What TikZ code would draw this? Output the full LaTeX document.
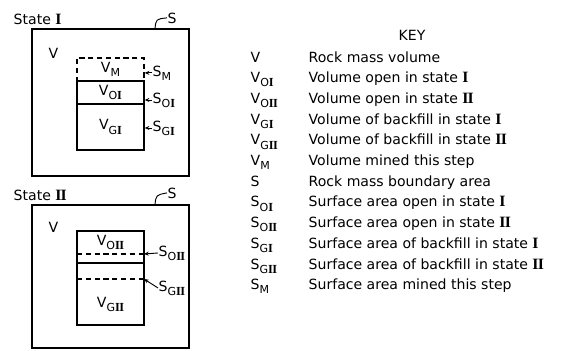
\documentclass[tikz,border=0pt]{standalone}
\usepackage{fontspec}
\setmainfont{DejaVu Sans}
\newfontfamily\romfont[Scale=1.12]{Liberation Serif}
\usetikzlibrary{arrows.meta}
\newcommand{\lowsub}[1]{\raisebox{-0.55ex}{\fontsize{9.4}{10}\selectfont #1}}
\newcommand{\rI}{{\romfont\bfseries I}}
\newcommand{\rII}{{\romfont\bfseries I\kern-0.05em I}}
\tikzset{
  lbl/.style   = {inner sep=0pt, font=\fontsize{12}{14}\selectfont},
  cell/.style  = {draw, lbl, minimum width=2.01cm},
  dsh/.style   = {dash pattern=on 4.5pt off 3pt},
  lead/.style  = {-{Stealth[length=4pt,width=3.4pt]}, line width=0.8pt},
}

\begin{document}
\begin{tikzpicture}[x=0.03cm, y=-0.03cm, line width=1.2pt]
\useasboundingbox (0,0) rectangle (578,350);
% ---- state I ----
\node[lbl,anchor=base west] (st1) at (13,24) {State \rI};
\node[lbl,anchor=base west] (s1) at (167,23) {S};
\draw (32,29) rectangle (189,176);
\draw[line width=0.8pt] (155,29) .. controls (156,19) .. (s1.west);
\node[lbl,anchor=base] (v1) at (53.5,58) {V};
\node[cell,dsh,minimum height=0.69cm] (vm) at (110.5,69.5) {V\lowsub{M}};
\node[cell,minimum height=0.69cm] (voi) at (110.5,92.5) {V\lowsub{O\rI}};
\node[cell,minimum height=1.38cm] (vgi) at (110.5,127) {V\lowsub{G\rI}};
\node[lbl,anchor=base west] (sm)  at (152,76)  {S\lowsub{M}};
\node[lbl,anchor=base west] (soi) at (152,103) {S\lowsub{O\rI}};
\node[lbl,anchor=base west] (sgi) at (152,131) {S\lowsub{G\rI}};
\draw[lead] (sm.west)  -- (sm.west -| vm.east);
\draw[lead] (soi.west) -- (soi.west -| voi.east);
\draw[lead] (sgi.west) -- (sgi.west -| vgi.east);
% ---- state II ----
\node[lbl,anchor=base west] (st2) at (13,200) {State \rII};
\node[lbl,anchor=base west] (s2) at (167,198) {S};
\draw (32,205) rectangle (189,348);
\draw[line width=0.8pt] (155,205) .. controls (156,195) .. (s2.west);
\node[lbl,anchor=base] (v2) at (53.5,232) {V};
\draw (77,231) rectangle (144,325);
\draw (77,263) -- (144,263);
\draw[dsh] (77,254) -- (144,254);
\draw[dsh] (77,279) -- (144,279);
\coordinate (oedge) at (144,254);
\coordinate (gedge) at (144,279);
\node[lbl,anchor=base] (voii) at (110.5,245) {V\lowsub{O\rII}};
\node[lbl,anchor=base] (vgii) at (110.5,307) {V\lowsub{G\rII}};
\node[lbl,anchor=base west] (soii) at (158,256) {S\lowsub{O\rII}};
\node[lbl,anchor=base west] (sgii) at (158,291) {S\lowsub{G\rII}};
\draw[lead] (soii.west) -- (oedge);
\draw[lead] (sgii.west) -- (gedge);
% ---- key ----
\node[lbl,anchor=base] (key) at (412,40) {KEY};
\foreach \sym/\txt [count=\i] in {
    V/Rock mass volume,
    V\lowsub{O\rI}/Volume open in state \rI,
    V\lowsub{O\rII}/Volume open in state \rII,
    V\lowsub{G\rI}/Volume of backfill in state \rI,
    V\lowsub{G\rII}/Volume of backfill in state \rII,
    V\lowsub{M}/Volume mined this step,
    S/Rock mass boundary area,
    S\lowsub{O\rI}/Surface area open in state \rI,
    S\lowsub{O\rII}/Surface area open in state \rII,
    S\lowsub{G\rI}/Surface area of backfill in state \rI,
    S\lowsub{G\rII}/Surface area of backfill in state \rII,
    S\lowsub{M}/Surface area mined this step}
  {
  \node[lbl,anchor=base west] (ks\i) at (250,{62+20.7*(\i-1)}) {\sym};
  \node[lbl,anchor=base west] (kt\i) at (308,{62+20.7*(\i-1)}) {\txt};
  }
\end{tikzpicture}
\end{document}
